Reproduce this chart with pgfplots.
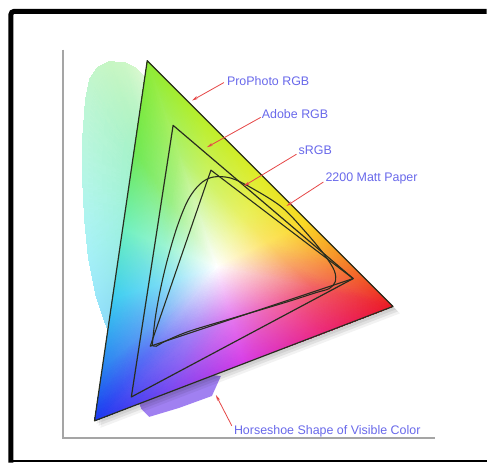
\documentclass[border=0pt]{standalone}
\usepackage{fontspec}
\setmainfont{Liberation Sans}
\usepackage{pgfplots}
\pgfplotsset{compat=1.18}
\usetikzlibrary{arrows.meta}

\definecolor{lblue}{RGB}{105,105,235}
\definecolor{arrowred}{RGB}{230,70,70}
\definecolor{axgray}{RGB}{165,165,165}
\definecolor{edge}{RGB}{40,45,30}
\definecolor{hsPurple}{RGB}{150,115,240}
% gamut triangle: white centre, edge colours, inner ring
\definecolor{cW}{RGB}{255,255,255}
\definecolor{cA}{RGB}{140,235,50}
\definecolor{cB}{RGB}{185,238,40}
\definecolor{cC}{RGB}{225,235,35}
\definecolor{cD}{RGB}{250,215,30}
\definecolor{cE}{RGB}{245,125,35}
\definecolor{cF}{RGB}{235,25,35}
\definecolor{cG}{RGB}{235,40,130}
\definecolor{cH}{RGB}{215,60,230}
\definecolor{cI}{RGB}{120,70,240}
\definecolor{cJ}{RGB}{25,55,240}
\definecolor{cK}{RGB}{40,130,240}
\definecolor{cL}{RGB}{60,205,240}
\definecolor{cM}{RGB}{110,240,190}
\definecolor{cN}{RGB}{110,232,80}
\definecolor{rA}{RGB}{174,241,112}
\definecolor{rB}{RGB}{206,243,105}
\definecolor{rC}{RGB}{234,241,101}
\definecolor{rD}{RGB}{252,227,98}
\definecolor{rE}{RGB}{248,164,101}
\definecolor{rF}{RGB}{241,94,101}
\definecolor{rG}{RGB}{241,105,168}
\definecolor{rH}{RGB}{227,118,238}
\definecolor{rI}{RGB}{160,125,245}
\definecolor{rJ}{RGB}{94,115,245}
\definecolor{rK}{RGB}{105,168,245}
\definecolor{rL}{RGB}{119,220,245}
\definecolor{rM}{RGB}{154,244,210}
\definecolor{rN}{RGB}{154,239,132}
% horseshoe colours
\definecolor{hC}{RGB}{150,240,200}
\definecolor{h1}{RGB}{225,250,215}
\definecolor{h2}{RGB}{215,248,205}
\definecolor{h3}{RGB}{205,247,198}
\definecolor{h4}{RGB}{200,246,195}
\definecolor{h5}{RGB}{198,246,200}
\definecolor{h6}{RGB}{195,246,205}
\definecolor{h7}{RGB}{192,246,212}
\definecolor{h8}{RGB}{188,246,222}
\definecolor{h9}{RGB}{182,246,232}
\definecolor{h10}{RGB}{175,244,242}
\definecolor{h11}{RGB}{165,240,248}
\definecolor{h12}{RGB}{155,232,250}
\definecolor{h13}{RGB}{145,222,250}
\definecolor{h14}{RGB}{140,215,250}

\begin{document}
\begin{tikzpicture}
\begin{axis}[
  x=1pt, y=1pt, y dir=reverse,
  xmin=0, xmax=489, ymin=0, ymax=465,
  hide axis, clip=false]

  % page background
  \addplot[draw=none, fill=white] coordinates {(0,0) (489,0) (489,465) (0,465)} --cycle;

  % horseshoe of visible colour
  \addplot[patch, shader=interp, mesh/color input=explicit] table[meta=c] {
x y c
160 200 color=hC
146 78 color=h1
137 69 color=h2
160 200 color=hC
137 69 color=h2
125 63 color=h3
160 200 color=hC
125 63 color=h3
110 62 color=h4
160 200 color=hC
110 62 color=h4
98 68 color=h5
160 200 color=hC
98 68 color=h5
90 80 color=h6
160 200 color=hC
90 80 color=h6
86 100 color=h7
160 200 color=hC
86 100 color=h7
83 140 color=h8
160 200 color=hC
83 140 color=h8
83 180 color=h9
160 200 color=hC
83 180 color=h9
85 220 color=h10
160 200 color=hC
85 220 color=h10
89 260 color=h11
160 200 color=hC
89 260 color=h11
96 295 color=h12
160 200 color=hC
96 295 color=h12
104 320 color=h13
160 200 color=hC
104 320 color=h13
114 345 color=h14
  };
  \addplot[draw=none, fill=hsPurple, opacity=0.9] coordinates {
    (138,400) (142,411) (150,419) (180,410) (213,398) (222,378) (200,375) (150,395)} --cycle;

  % soft shadow of the triangle
  \addplot[draw=none, fill=black, opacity=0.07] coordinates {(150,63) (398,311) (97,426)} --cycle;
  \addplot[draw=none, fill=black, opacity=0.07] coordinates {(152,65) (400,313) (99,428)} --cycle;
  \addplot[draw=none, fill=black, opacity=0.05] coordinates {(154,67) (402,315) (101,430)} --cycle;

  % ProPhoto RGB gamut, filled: white centre, inner ring, edge
  \addplot[patch, shader=interp, mesh/color input=explicit] table[meta=c] {
x y c
218 268 color=cW
179.5 154.1 color=rA
210.3 185.0 color=rB
179.5 154.1 color=rA
148 61 color=cA
204 117 color=cB
179.5 154.1 color=rA
204 117 color=cB
210.3 185.0 color=rB
218 268 color=cW
210.3 185.0 color=rB
243.9 218.5 color=rC
210.3 185.0 color=rB
204 117 color=cB
265 178 color=cC
210.3 185.0 color=rB
265 178 color=cC
243.9 218.5 color=rC
218 268 color=cW
243.9 218.5 color=rC
268.6 243.3 color=rD
243.9 218.5 color=rC
265 178 color=cC
310 223 color=cD
243.9 218.5 color=rC
310 223 color=cD
268.6 243.3 color=rD
218 268 color=cW
268.6 243.3 color=rD
291.7 266.4 color=rE
268.6 243.3 color=rD
310 223 color=cD
352 265 color=cE
268.6 243.3 color=rD
352 265 color=cE
291.7 266.4 color=rE
218 268 color=cW
291.7 266.4 color=rE
315.4 290.0 color=rF
291.7 266.4 color=rE
352 265 color=cE
395 308 color=cF
291.7 266.4 color=rE
395 308 color=cF
315.4 290.0 color=rF
218 268 color=cW
315.4 290.0 color=rF
274.1 306.0 color=rG
315.4 290.0 color=rF
395 308 color=cF
320 337 color=cG
315.4 290.0 color=rF
320 337 color=cG
274.1 306.0 color=rG
218 268 color=cW
274.1 306.0 color=rG
232.9 321.4 color=rH
274.1 306.0 color=rG
320 337 color=cG
245 365 color=cH
274.1 306.0 color=rG
245 365 color=cH
232.9 321.4 color=rH
218 268 color=cW
232.9 321.4 color=rH
191.6 337.3 color=rI
232.9 321.4 color=rH
245 365 color=cH
170 394 color=cI
232.9 321.4 color=rH
170 394 color=cI
191.6 337.3 color=rI
218 268 color=cW
191.6 337.3 color=rI
150.4 353.3 color=rJ
191.6 337.3 color=rI
170 394 color=cI
95 423 color=cJ
191.6 337.3 color=rI
95 423 color=cJ
150.4 353.3 color=rJ
218 268 color=cW
150.4 353.3 color=rJ
154.8 324.1 color=rK
150.4 353.3 color=rJ
95 423 color=cJ
103 370 color=cK
150.4 353.3 color=rJ
103 370 color=cK
154.8 324.1 color=rK
218 268 color=cW
154.8 324.1 color=rK
160.3 285.6 color=rL
154.8 324.1 color=rK
103 370 color=cK
113 300 color=cL
154.8 324.1 color=rK
113 300 color=cL
160.3 285.6 color=rL
218 268 color=cW
160.3 285.6 color=rL
166.3 247.1 color=rM
160.3 285.6 color=rL
113 300 color=cL
124 230 color=cM
160.3 285.6 color=rL
124 230 color=cM
166.3 247.1 color=rM
218 268 color=cW
166.3 247.1 color=rM
172.4 203.1 color=rN
166.3 247.1 color=rM
124 230 color=cM
135 150 color=cN
166.3 247.1 color=rM
135 150 color=cN
172.4 203.1 color=rN
218 268 color=cW
172.4 203.1 color=rN
179.5 154.1 color=rA
172.4 203.1 color=rN
135 150 color=cN
148 61 color=cA
172.4 203.1 color=rN
148 61 color=cA
179.5 154.1 color=rA
  };

  % gamut outlines
  \addplot[edge, line width=1.2pt, line join=round] coordinates {(148,61) (395,308) (95,423)} --cycle;
  \addplot[edge, line width=1.2pt, line join=round] coordinates {(174,126) (355,280) (132,399)} --cycle;
  \addplot[edge, line width=1.1pt, line join=round] coordinates {(212,171) (355,280) (151,348)} --cycle;
  % 2200 Matt Paper
  \addplot[edge, line width=1.1pt, smooth, tension=0.55] coordinates {
    (153,347) (156,320) (161,292) (168,262) (178,228) (189,201) (201,185)
    (214,178) (232,179) (253,189) (283,208) (307,233) (326,256) (336,272)
    (337,283) (331,290) (318,294) (290,303) (260,312) (233,320) (190,333)
    (166,343) (157,348) (153,347)};

  % pointers
  \addplot[arrowred, line width=0.8pt, -{Stealth[length=6pt,width=3pt]}] coordinates {(225,83) (193,101)};
  \addplot[arrowred, line width=0.8pt, -{Stealth[length=6pt,width=3pt]}] coordinates {(262,118) (208,148)};
  \addplot[arrowred, line width=0.8pt, -{Stealth[length=6pt,width=3pt]}] coordinates {(298,155) (245,187)};
  \addplot[arrowred, line width=0.8pt, -{Stealth[length=6pt,width=3pt]}] coordinates {(325,183) (288,207)};
  \addplot[arrowred, line width=0.8pt, -{Stealth[length=6pt,width=3pt]}] coordinates {(233,428) (217,397)};

  \node[anchor=west, text=lblue, font=\fontsize{12.5}{14}\selectfont, inner sep=0pt] at (axis cs:228,81) {ProPhoto RGB};
  \node[anchor=west, text=lblue, font=\fontsize{12.5}{14}\selectfont, inner sep=0pt] at (axis cs:263,115) {Adobe RGB};
  \node[anchor=west, text=lblue, font=\fontsize{12.5}{14}\selectfont, inner sep=0pt] at (axis cs:300,151) {sRGB};
  \node[anchor=west, text=lblue, font=\fontsize{12.5}{14}\selectfont, inner sep=0pt] at (axis cs:327,179) {2200 Matt Paper};
  \node[anchor=west, text=lblue, font=\fontsize{12.5}{14}\selectfont, inner sep=0pt] at (axis cs:235,433) {Horseshoe Shape of Visible Color};

  % plain axes of the diagram
  \addplot[axgray, line width=2pt] coordinates {(63,50) (63,440.5) (437,440.5)};

  % outer frame
  \addplot[black, line width=5pt, rounded corners=3pt] coordinates {(11,465) (11,11.5) (489,11.5)};
  \addplot[black, line width=1.5pt] coordinates {(11,463.5) (489,463.5)};
\end{axis}
\end{tikzpicture}
\end{document}
